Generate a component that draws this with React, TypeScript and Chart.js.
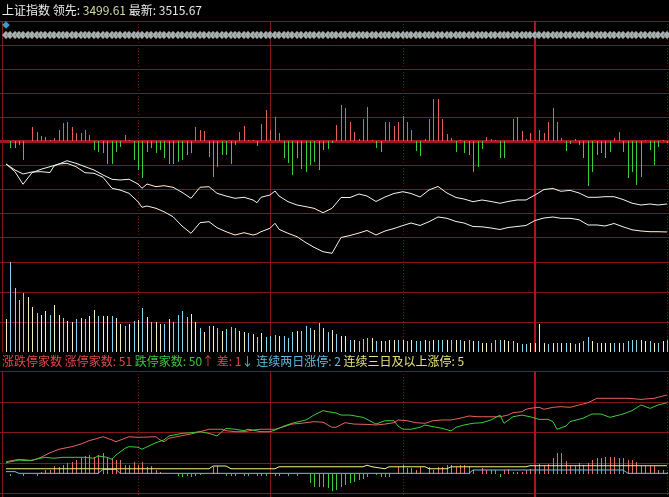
import React, { useEffect, useRef } from "react";
import { Chart, registerables } from "chart.js";

Chart.register(...registerables);

// ---------------- data ----------------
const BAR_COUNT = 151;
const sessionMarks = [30, 60, 90, 120, 150];

// money-flow style red/green bars (upper pane)
const flowBars = [
  0, -7, -7, -4, -19, 0, 14, 9, 5, 4,
  1, 3, 11, 18, 19, 14, 8, 8, 11, 6,
  -9, -11, -12, -23, -23, -11, -6, 6, 1, -19,
  -29, -37, -11, -7, -12, -9, -17, -23, -23, -21,
  -19, -14, -12, 14, 11, 10, -16, -36, -26, -14,
  -14, -23, -4, 9, 15, 1, 1, -5, 17, 31,
  11, 24, 8, -17, -22, -34, -17, -28, -31, -24,
  -21, -29, -9, -8, -2, 16, 36, 33, 19, 9,
  2, 22, 34, 1, -7, -11, 19, 19, 15, 19,
  25, 19, 11, -10, -15, 2, 22, 42, 42, 22,
  7, 3, -11, 1, -12, -14, -31, -26, -8, 4,
  2, 1, -17, -17, 0, 22, 24, 10, 2, 8,
  1, 11, 8, 19, 33, 19, 3, -10, -3, 2,
  -4, -17, -45, -31, -14, -12, -17, -11, 3, 9,
  -11, -37, -31, -44, -36, 1, -9, -24, -6, 1,
  -2,
];

// index lines (最新 / 领先)
const priceIdx = [
  0, 2, 4, 6, 8, 10, 11, 12, 14, 16, 18, 20, 22, 24, 26, 28, 30, 31, 32, 34,
  36, 38, 40, 42, 44, 46, 48, 50, 52, 54, 56, 57, 58, 60, 61, 62, 64, 66, 68, 70,
  72, 74, 76, 78, 80, 82, 84, 86, 88, 90, 92, 94, 96, 98, 100, 102, 104, 106, 108, 110,
  112, 114, 116, 118, 120, 122, 124, 126, 128, 130, 132, 134, 136, 138, 140, 142, 144, 146, 148, 150,
];
const latestPrice = [
  3538.63, 3534.21, 3526.98, 3533.64, 3535.59, 3537.08, 3537.8, 3538.63, 3540.52, 3539.03,
  3537.08, 3535.19, 3532.32, 3529.85, 3529.45, 3529.85, 3527.15, 3524.68, 3527.15, 3525.6,
  3526.17, 3525.26, 3522.39, 3518.94, 3525.26, 3525.6, 3521.81, 3520.26, 3518.94, 3519.52,
  3517.97, 3516.42, 3519.52, 3520.84, 3523.13, 3520.26, 3516.99, 3515.1, 3514.12, 3513.2,
  3510.68, 3513.2, 3519.4, 3519.4, 3521.41, 3520.26, 3517.11, 3519.69, 3521.7, 3522.73,
  3521.7, 3519.69, 3523.71, 3525.72, 3521.98, 3519.4, 3518.54, 3516.99, 3517.97, 3517.11,
  3516.07, 3517.11, 3517.97, 3517.97, 3520.84, 3523.99, 3524.57, 3522.96, 3523.53, 3521.98,
  3519.52, 3519.52, 3519.86, 3519.86, 3518.25, 3516.13, 3515.1, 3515.67, 3515.1, 3515.67,
];
const leadPrice = [
  3538.63, 3535.19, 3532.89, 3534.04, 3534.21, 3533.75, 3537.48, 3538.63, 3539.03, 3537.08,
  3533.64, 3533.29, 3531.0, 3524.68, 3523.71, 3521.81, 3516.99, 3513.78, 3514.52, 3513.2,
  3511.25, 3508.38, 3503.04, 3498.85, 3504.94, 3505.51, 3502.07, 3499.77, 3497.88, 3499.2,
  3497.88, 3498.5, 3499.77, 3501.72, 3504.59, 3501.15, 3498.85, 3496.9, 3493.46, 3490.82,
  3488.29, 3487.37, 3496.44, 3497.59, 3499.02, 3500.46, 3497.88, 3500.17, 3501.61, 3503.33,
  3504.76, 3503.33, 3505.51, 3508.21, 3507.46, 3505.62, 3504.76, 3502.75, 3502.58, 3501.89,
  3501.03, 3502.18, 3502.75, 3503.33, 3506.2, 3507.63, 3508.21, 3507.46, 3507.46, 3506.66,
  3503.62, 3503.62, 3503.04, 3504.48, 3502.58, 3500.86, 3500.17, 3499.77, 3499.77, 3499.61,
];

// volume bars and their colour flag (1 = pale yellow, 0 = cyan)
const volume = [
  1100, 3000, 2130, 1730, 1970, 1830, 1500, 1300, 1230, 1370,
  1230, 1570, 1230, 1130, 1030, 1000, 1100, 1130, 1100, 1200,
  1400, 1200, 1200, 1200, 1200, 1130, 930, 870, 930, 1030,
  1070, 1470, 1170, 1000, 1000, 930, 930, 1100, 1000, 1230,
  1370, 1170, 1270, 1000, 800, 670, 870, 870, 800, 700,
  770, 830, 800, 700, 670, 630, 600, 500, 630, 500,
  530, 570, 530, 530, 470, 670, 700, 700, 870, 800,
  730, 970, 800, 670, 730, 600, 530, 530, 400, 400,
  370, 430, 470, 470, 370, 370, 370, 400, 400, 400,
  400, 370, 400, 370, 370, 400, 370, 400, 400, 400,
  400, 400, 400, 400, 370, 400, 370, 370, 300, 300,
  300, 400, 400, 400, 370, 370, 300, 270, 270, 300,
  300, 930, 300, 270, 300, 300, 300, 300, 300, 270,
  300, 370, 500, 370, 300, 300, 300, 300, 300, 300,
  300, 370, 400, 400, 400, 370, 370, 300, 300, 370,
  400,
];
const volUp = [
  1, 0, 0, 0, 0, 1, 1, 0, 1, 1,
  0, 1, 1, 0, 1, 1, 0, 1, 0, 1,
  1, 0, 1, 1, 0, 1, 1, 0, 1, 0,
  1, 0, 1, 0, 1, 1, 0, 1, 0, 0,
  0, 0, 1, 1, 0, 1, 0, 1, 0, 1,
  0, 0, 0, 1, 1, 0, 1, 0, 1, 0,
  0, 0, 1, 0, 0, 0, 1, 0, 0, 0,
  1, 0, 1, 0, 1, 0, 1, 1, 0, 1,
  0, 0, 0, 1, 0, 1, 0, 1, 1, 0,
  1, 0, 1, 0, 0, 1, 0, 1, 0, 0,
  1, 0, 1, 0, 1, 0, 1, 0, 1, 1,
  0, 0, 0, 1, 1, 0, 1, 0, 0, 1,
  1, 1, 1, 0, 1, 0, 1, 0, 1, 0,
  1, 0, 0, 1, 0, 1, 1, 1, 0, 1,
  0, 0, 0, 0, 1, 1, 0, 1, 0, 1,
  0,
];

// lower pane: 涨停家数 (red) / 跌停家数 (green)
const limitUpIdx = [
  0, 3, 5, 6, 8, 10, 12, 15, 17, 19, 21, 22, 24, 25, 27, 28, 30, 34, 35, 36,
  37, 40, 42, 44, 46, 49, 50, 52, 54, 56, 58, 61, 63, 65, 67, 70, 72, 74, 75, 77,
  79, 82, 84, 86, 88, 89, 91, 93, 95, 97, 99, 101, 103, 105, 107, 110, 112, 114, 115, 117,
  118, 119, 121, 122, 124, 126, 128, 130, 132, 134, 137, 141, 144, 147, 149, 150,
];
const limitUp = [
  20.5, 22.1, 21.6, 21.2, 23.4, 26.4, 28.7, 30.4, 32.1, 34.3,
  35.9, 36.9, 34.8, 33.6, 35.9, 36.9, 36.5, 36.9, 34.8, 33.6,
  35.9, 37.6, 38.7, 40.2, 41.8, 41.8, 40.9, 40.2, 40.2, 41.3,
  41.8, 41.8, 43.5, 45.2, 45.7, 46.8, 46.4, 43.1, 43.1, 46.1,
  45.2, 45.0, 44.6, 45.2, 46.1, 47.9, 47.4, 46.1, 45.7, 47.4,
  47.9, 47.9, 49.0, 50.5, 50.0, 50.0, 50.0, 51.1, 52.7, 53.3,
  54.9, 55.5, 56.2, 54.9, 56.2, 56.6, 56.2, 57.7, 59.2, 62.1,
  62.1, 62.1, 61.4, 62.1, 63.6, 64.3,
];
const limitDownIdx = [
  0, 3, 5, 6, 9, 11, 13, 15, 18, 20, 21, 23, 24, 25, 27, 28, 30, 31, 33, 34,
  36, 37, 40, 42, 44, 46, 48, 50, 52, 54, 55, 58, 60, 61, 63, 65, 68, 70, 72, 73,
  75, 76, 78, 81, 82, 84, 86, 88, 89, 90, 92, 94, 95, 97, 99, 101, 102, 104, 106, 108,
  110, 112, 113, 115, 117, 119, 121, 123, 124, 125, 127, 128, 131, 133, 135, 137, 140, 142, 144, 146,
  148, 150,
];
const limitDown = [
  19.9, 21.6, 21.2, 21.6, 23.4, 22.8, 23.4, 23.4, 23.4, 22.8,
  24.3, 23.4, 22.1, 24.9, 29.3, 30.4, 30.0, 28.7, 31.5, 33.0,
  34.8, 37.4, 39.1, 39.5, 40.2, 39.1, 37.4, 42.4, 41.8, 40.9,
  41.8, 40.2, 40.2, 41.3, 43.9, 45.7, 47.9, 51.1, 54.0, 53.3,
  52.5, 51.1, 51.1, 49.6, 48.3, 45.2, 47.4, 47.4, 43.9, 41.8,
  41.8, 43.1, 44.6, 43.5, 42.4, 40.7, 43.1, 44.6, 45.7, 46.1,
  47.9, 51.1, 45.7, 50.0, 51.1, 50.0, 48.3, 48.3, 46.8, 41.8,
  43.9, 46.8, 49.0, 51.8, 51.8, 49.6, 51.8, 54.0, 57.7, 55.5,
  57.7, 59.2,
];
// 连续两日涨停 (cyan) / 连续三日及以上涨停 (yellow)
const twoDayIdx = [0, 2, 3, 21, 22, 25, 26, 105, 106, 140, 141, 150];
const twoDay = [14.0, 14.0, 12.9, 12.9, 15.5, 15.5, 12.9, 12.9, 15.1, 15.1, 12.9, 12.9];
const threeDayIdx = [0, 46, 47, 50, 51, 61, 62, 81, 82, 83, 86, 87, 95, 96, 100, 101, 118, 119, 150];
const threeDay = [15.9, 15.9, 17.7, 17.7, 15.9, 15.9, 17.2, 17.2, 18.2, 17.2, 15.9, 17.2, 17.2, 15.9, 15.9, 17.2, 17.2, 17.9, 17.9];

// net bars of the lower pane
const netBars = [
  0, -2, 0, 0, -2, 0, 0, -2, 2, 4,
  4, 8, 7, 9, 11, 12, 14, 16, 18, 19,
  17, 19, 21, 17, 16, 14, 14, 9, 9, 12,
  9, 12, 7, 8, 4, 2, 0, 0, 0, -2,
  -3, -2, -3, -2, -1, 0, 0, 7, 8, 0,
  -2, -2, -2, 0, -2, -2, 0, -2, -2, -2,
  0, -2, -2, 0, -2, 0, -2, 0, 0, -9,
  -13, -13, -13, -14, -17, -16, -13, -11, -9, -8,
  -6, -5, -3, 0, -1, -3, -3, -3, 0, 7,
  9, 6, 6, 4, 7, 0, 7, 4, 7, 7,
  9, 9, 7, 9, 9, 8, 4, 0, 6, 4,
  4, 4, -3, 4, 5, 2, 2, 2, 4, 5,
  8, 10, 8, 10, 16, 21, 21, 13, 9, 8,
  11, 9, 11, 14, 16, 16, 17, 17, 17, 16,
  16, 14, 14, 12, 8, 8, 8, 8, 4, 4,
  2,
];

const titleParts = [
  { text: "上证指数 领先: ", color: "#ececec" },
  { text: "3499.61", color: "#d6d6a2" },
  { text: " 最新: ", color: "#ececec" },
  { text: "3515.67", color: "#e6e6e6" },
];
const statParts = [
  { text: "涨跌停家数 ", color: "#e24a4a" },
  { text: "涨停家数: 51 ", color: "#e24a4a" },
  { text: "跌停家数: 50", color: "#3ec83e" },
  { text: "↑", color: "#e24a4a" },
  { text: " 差: 1", color: "#e24a4a" },
  { text: "↓", color: "#3ec8b0" },
  { text: " 连续两日涨停: 2", color: "#5cbde0" },
  { text: " 连续三日及以上涨停: 5", color: "#e6e07a" },
];

// ---------------- styles ----------------
const GRID = "#841818";
const AXIS = "#a01c1c";
const DOT = "#701414";
const BRIGHT = "#b01414";
const RED = "#e65e5e";
const GREEN = "#3ccc3c";
const VOL_UP = "#f4f0c4";
const VOL_DN = "#84d6ee";

const verticals = [
  { value: sessionMarks[0], color: DOT, width: 1, dash: [1, 2] },
  { value: sessionMarks[1], color: GRID, width: 1 },
  { value: sessionMarks[2], color: DOT, width: 1, dash: [1, 2] },
  { value: sessionMarks[3], color: BRIGHT, width: 2 },
  { value: sessionMarks[4], color: DOT, width: 1, dash: [1, 2] },
];

function gridPlugin(spec: any) {
  return {
    id: "paneGrid",
    beforeDatasetsDraw(chart: any) {
      const { ctx, chartArea, scales } = chart;
      const line = (x1: number, y1: number, x2: number, y2: number, color: string, width: number, dash?: number[]) => {
        ctx.beginPath();
        ctx.strokeStyle = color;
        ctx.lineWidth = width;
        ctx.setLineDash(dash || []);
        ctx.moveTo(x1, y1);
        ctx.lineTo(x2, y2);
        ctx.stroke();
      };
      ctx.save();
      for (const h of spec.h) {
        const s = scales[h.scale];
        for (const v of h.values) {
          let y = Math.round(s.getPixelForValue(v));
          if (h.width % 2 === 1) y += 0.5;
          line(0, y, chart.width, y, h.color, h.width, h.dash);
        }
      }
      const xs = scales.x;
      line(chartArea.left + 0.5, chartArea.top, chartArea.left + 0.5, chartArea.bottom, GRID, 1);
      for (const m of spec.v) {
        let x = Math.round(xs.getPixelForValue(m.value));
        if (m.width % 2 === 1) x += 0.5;
        line(x, chartArea.top, x, chartArea.bottom, m.color, m.width, m.dash);
      }
      ctx.restore();
    },
  };
}

const crispBars = {
  id: "crispBars",
  beforeDatasetDraw(chart: any, args: any) {
    if (args.meta.type === "bar") {
      chart.ctx.save();
      chart.ctx.translate(0.5, 0);
    }
  },
  afterDatasetDraw(chart: any, args: any) {
    if (args.meta.type === "bar") chart.ctx.restore();
  },
};

const xScale = { type: "linear", min: -0.84, max: 150.18, display: false, offset: false, alignToPixels: true };

const baseOptions = (padding: any, scales: any) => ({
  animation: false,
  responsive: false,
  devicePixelRatio: 1,
  events: [],
  layout: { padding, autoPadding: false },
  plugins: { legend: { display: false }, tooltip: { enabled: false }, title: { display: false } },
  scales: { x: xScale, ...scales },
});

const lineDs = (idx: number[], vals: number[], yAxisID: string, color: string, order = 0) => ({
  type: "line",
  data: idx.map((x, k) => ({ x, y: vals[k] })),
  yAxisID,
  borderColor: color,
  borderWidth: 1,
  pointRadius: 0,
  tension: 0,
  order,
});

function topConfig() {
  const idx = flowBars.map((_, i) => i);
  return {
    type: "bar",
    data: {
      datasets: [
        lineDs(priceIdx, latestPrice, "yPx", "#f4f4f4"),
        lineDs(priceIdx, leadPrice, "yPx", "#f4f4f4"),
        {
          type: "line",
          data: idx.map((x) => ({ x, y: 0 })),
          yAxisID: "ySig",
          showLine: false,
          pointStyle: "rectRot",
          pointRadius: 4,
          pointBackgroundColor: "#a6aeae",
          pointBorderColor: "#687070",
          pointBorderWidth: 0.7,
          clip: false,
          order: 1,
        },
        {
          type: "line",
          data: [{ x: 0, y: 1 }],
          yAxisID: "ySig",
          showLine: false,
          pointStyle: "rectRot",
          pointRadius: 3.8,
          pointBackgroundColor: "#3d97d3",
          pointBorderWidth: 0,
          clip: false,
          order: 0,
        },
        {
          type: "bar",
          data: idx.map((x) => ({ x, y: flowBars[x] })),
          yAxisID: "yFlow",
          backgroundColor: (c: any) => (c.raw && c.raw.y < 0 ? GREEN : RED),
          barThickness: 1,
          grouped: false,
          inflateAmount: 0,
          borderWidth: 0,
          order: 2,
        },
        {
          type: "bar",
          data: idx.map((x) => ({ x, y: volume[x] })),
          yAxisID: "yVol",
          backgroundColor: (c: any) => (volUp[c.dataIndex] ? VOL_UP : VOL_DN),
          barThickness: 1,
          grouped: false,
          inflateAmount: 0,
          borderWidth: 0,
          order: 2,
        },
      ],
    },
    options: baseOptions(
      { left: 2, right: 1, top: 21, bottom: 3 },
      {
        yFlow: { min: -211, max: 120, display: false, alignToPixels: true },
        yVol: { min: 0, max: 11033, display: false, alignToPixels: true },
        yPx: { min: 3430.72, max: 3620.71, display: false },
        ySig: { min: -31.7, max: 1.4, display: false },
      }
    ),
    plugins: [
      gridPlugin({
        h: [
          { scale: "yFlow", values: [120, 96, 72, 48, 24, -24, -48, -72, -96, -121], color: GRID, width: 1 },
          { scale: "yVol", values: [1000, 2000], color: GRID, width: 1 },
          { scale: "yFlow", values: [0], color: AXIS, width: 3 },
        ],
        v: verticals,
      }),
      crispBars,
    ],
  };
}

function bottomConfig() {
  const idx = netBars.map((_, i) => i);
  return {
    type: "bar",
    data: {
      datasets: [
        lineDs(threeDayIdx, threeDay, "yE", "#f6f28a"),
        lineDs(twoDayIdx, twoDay, "yE", "#6cc4e6"),
        lineDs(limitDownIdx, limitDown, "yE", "#3ccc3c"),
        lineDs(limitUpIdx, limitUp, "yE", "#e46262"),
        {
          type: "bar",
          data: idx.map((x) => ({ x, y: netBars[x] })),
          yAxisID: "yNet",
          backgroundColor: (c: any) => (c.raw && c.raw.y < 0 ? GREEN : "#ea6a5e"),
          barThickness: 1,
          grouped: false,
          inflateAmount: 0,
          borderWidth: 0,
          order: 2,
        },
      ],
    },
    options: baseOptions(
      { left: 2, right: 1, top: 5, bottom: 0 },
      {
        yE: { min: -2.62, max: 80, display: false },
        yNet: { min: -23, max: 103, display: false, alignToPixels: true },
      }
    ),
    plugins: [
      gridPlugin({
        h: [{ scale: "yE", values: [0, 20, 40, 60, 80], color: GRID, width: 1 }],
        v: verticals,
      }),
      crispBars,
    ],
  };
}

function Pane({ top, height, build }: { top: number; height: number; build: () => any }) {
  const ref = useRef<HTMLCanvasElement | null>(null);
  useEffect(() => {
    const chart = new Chart(ref.current as HTMLCanvasElement, build());
    return () => chart.destroy();
  }, []);
  return (
    <canvas
      ref={ref}
      width={669}
      height={height}
      style={{ position: "absolute", left: 0, top, width: 669, height, display: "block" }}
    />
  );
}

export default function App() {
  const font = '"Noto Sans CJK SC", "Noto Sans", sans-serif';
  return (
    <div
      style={{
        position: "fixed",
        left: 0,
        top: 0,
        width: 669,
        height: 497,
        background: "#000",
        overflow: "hidden",
        fontFamily: font,
      }}
    >
      <Pane top={0} height={355} build={topConfig} />
      <Pane top={366} height={131} build={bottomConfig} />
      <div style={{ position: "absolute", left: 2, top: 1, fontSize: 12, lineHeight: "17px", whiteSpace: "pre" }}>
        {titleParts.map((p, i) => (
          <span key={i} style={{ color: p.color }}>
            {p.text}
          </span>
        ))}
      </div>
      <div style={{ position: "absolute", left: 2, top: 352, fontSize: 12, lineHeight: "17px", whiteSpace: "pre" }}>
        {statParts.map((p, i) => (
          <span key={i} style={{ color: p.color }}>
            {p.text}
          </span>
        ))}
      </div>
    </div>
  );
}
